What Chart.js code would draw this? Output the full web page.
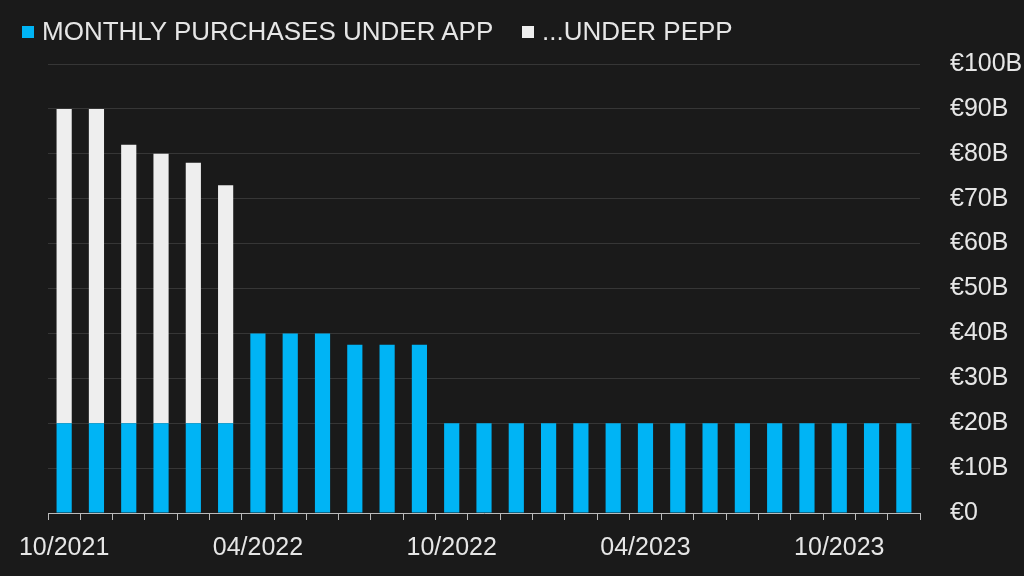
<!DOCTYPE html>
<html>
<head>
<meta charset="utf-8">
<script src="https://cdn.jsdelivr.net/npm/chart.js@4"></script>
<style>
  html, body { margin: 0; padding: 0; background: #1a1a1a; }
  #wrap { width: 1024px; height: 576px; position: relative; }
  #legend { position: absolute; left: 22px; top: 15px; color: #e6e6e6;
            font: 26px 'Liberation Sans', Arial, sans-serif; white-space: nowrap; }
  .item { position: absolute; top: 0; line-height: 32px; }
  .sw { display: inline-block; width: 12px; height: 12px; margin-right: 8px; vertical-align: 2px; }
</style>
</head>
<body>
<div id="wrap">
  <canvas id="chart" width="1024" height="576"></canvas>
  <div id="legend">
    <span class="item" style="left:0"><span class="sw" style="background:#00b4f5"></span>MONTHLY PURCHASES UNDER APP</span>
    <span class="item" style="left:500px"><span class="sw" style="background:#eeeeee"></span>...UNDER PEPP</span>
  </div>
</div>
<script>
// months, Oct 2021 .. Dec 2023
const months = [
  '10/2021', '11/2021', '12/2021', '01/2022', '02/2022', '03/2022',
  '04/2022', '05/2022', '06/2022', '07/2022', '08/2022', '09/2022',
  '10/2022', '11/2022', '12/2022', '01/2023', '02/2023', '03/2023',
  '04/2023', '05/2023', '06/2023', '07/2023', '08/2023', '09/2023',
  '10/2023', '11/2023', '12/2023'
];
// EUR billions
const appPurchases = [
  20, 20, 20, 20, 20, 20,
  40, 40, 40, 37.5, 37.5, 37.5,
  20, 20, 20, 20, 20, 20, 20, 20, 20, 20, 20, 20, 20, 20, 20
];
const peppPurchases = [
  70, 70, 62, 60, 58, 53,
  0, 0, 0, 0, 0, 0,
  0, 0, 0, 0, 0, 0, 0, 0, 0, 0, 0, 0, 0, 0, 0
];
const yTicks = [0, 10, 20, 30, 40, 50, 60, 70, 80, 90, 100];

const textColor = '#e6e6e6';
const font = { family: 'Liberation Sans, Arial, sans-serif', size: 25 };

const ctx = document.getElementById('chart').getContext('2d');
new Chart(ctx, {
  type: 'bar',
  data: {
    labels: months,
    datasets: [
      {
        label: 'MONTHLY PURCHASES UNDER APP',
        data: appPurchases,
        backgroundColor: '#00b4f5',
        barPercentage: 0.47,
        categoryPercentage: 1
      },
      {
        label: '...UNDER PEPP',
        data: peppPurchases,
        backgroundColor: '#eeeeee',
        barPercentage: 0.47,
        categoryPercentage: 1
      }
    ]
  },
  options: {
    responsive: false,
    animation: false,
    layout: { padding: { left: 48, right: 0, top: 64, bottom: 0 } },
    plugins: {
      legend: { display: false },
      tooltip: { enabled: false }
    },
    scales: {
      x: {
        stacked: true,
        grid: {
          offset: true,
          drawOnChartArea: false,
          color: '#bbbbbb',
          tickLength: 7
        },
        border: { color: '#bbbbbb' },
        ticks: {
          color: textColor,
          font: font,
          autoSkip: false,
          maxRotation: 0,
          padding: 13,
          callback: function(val, i) {
            return i % 6 === 0 ? months[i] : '';
          }
        }
      },
      y: {
        stacked: true,
        position: 'right',
        min: 0,
        max: 100,
        afterBuildTicks: function(axis) {
          axis.ticks = yTicks.map(v => ({ value: v }));
        },
        afterFit: function(axis) { axis.width = 104; },
        grid: { color: '#363636', drawTicks: false },
        border: { display: false },
        ticks: {
          color: textColor,
          font: font,
          padding: 30,
          callback: function(v) { return v === 0 ? '€0' : '€' + v + 'B'; }
        }
      }
    }
  }
});
</script>
</body>
</html>
